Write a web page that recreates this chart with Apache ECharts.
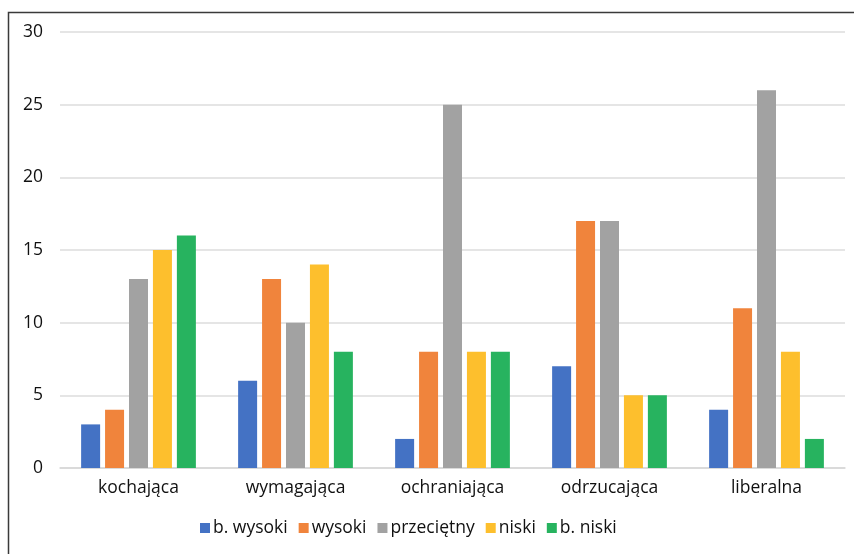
<!DOCTYPE html>
<html><head><meta charset="utf-8">
<script src="https://cdn.jsdelivr.net/npm/echarts@6/dist/echarts.min.js"></script>
<style>html,body{margin:0;padding:0;background:#fff}#c{width:854px;height:554px}</style>
</head><body><div id="c"></div>
<script>
const categories = ['kochająca','wymagająca','ochraniająca','odrzucająca','liberalna'];
const seriesNames = ['b. wysoki','wysoki','przeciętny','niski','b. niski'];
const bWysoki = [3,6,2,7,4];
const wysoki = [4,13,8,17,11];
const przecietny = [13,10,25,17,26];
const niski = [15,14,8,5,8];
const bNiski = [16,8,8,5,2];
const colors = ['#4472c4','#f0843c','#a2a2a2','#fdbf2d','#27b35f'];
const values = [bWysoki, wysoki, przecietny, niski, bNiski];
const font = '"Open Sans", "DejaVu Sans", sans-serif';
const chart = echarts.init(document.getElementById('c'));
chart.setOption({
  animation:false,
  color: colors,
  textStyle:{fontFamily:font},
  graphic:[{type:'rect',shape:{x:8.5,y:12.5,width:900,height:600},style:{fill:'none',stroke:'#3a3a3a',lineWidth:1.5},silent:true}],
  grid:{left:60,right:9,top:32,bottom:86},
  legend:{bottom:12,left:195,itemWidth:10,itemHeight:10,itemGap:11,icon:'rect',
    textStyle:{fontSize:17.5,color:'#111',fontFamily:font,padding:[0,0,0,-2]},data:seriesNames},
  xAxis:{type:'category',data:categories,axisTick:{show:false},
    axisLine:{lineStyle:{color:'#d6d6d6',width:1.5}},
    axisLabel:{fontSize:17.5,color:'#111',margin:11,fontFamily:font}},
  yAxis:{type:'value',min:0,max:30,interval:5,
    axisLabel:{fontSize:17.5,color:'#111',margin:17,fontFamily:font},
    splitLine:{lineStyle:{color:'#dcdcdc',width:1.5}},axisLine:{show:false}},
  series: seriesNames.map((n,i)=>({name:n,type:'bar',data:values[i],barWidth:19,barGap:'26%',barCategoryGap:'27%'}))
});
</script></body></html>
